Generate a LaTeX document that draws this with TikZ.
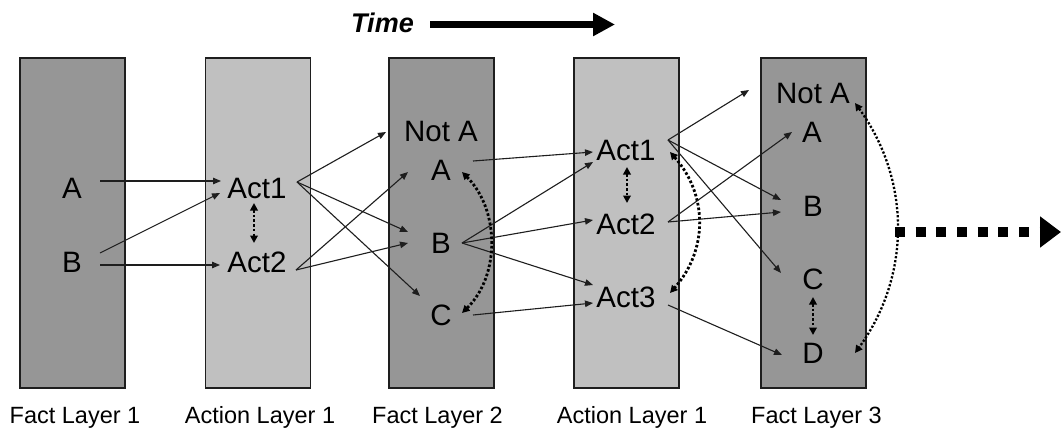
\documentclass[tikz,border=0pt]{standalone}
\usepackage{fontspec}
\setmainfont{Liberation Sans}
\usetikzlibrary{arrows.meta,calc}
\definecolor{factgray}{RGB}{150,150,150}
\definecolor{actgray}{RGB}{192,192,192}
\definecolor{ink}{RGB}{30,30,30}

\begin{document}
\begin{tikzpicture}[x=1pt,y=-1pt,
  layerfact/.style={fill=factgray,draw=ink,line width=1.1pt,minimum width=105pt,minimum height=330pt,inner sep=0pt},
  layeract/.style={fill=actgray,draw=ink,line width=1.1pt,minimum width=105pt,minimum height=330pt,inner sep=0pt},
  lit/.style={inner sep=0pt,font=\fontsize{29.5}{32}\selectfont},
  caption/.style={anchor=base,inner sep=0pt,font=\fontsize{23.5}{26}\selectfont},
  link/.style={draw=ink,line width=1.1pt,-{Triangle[length=8pt,width=6.5pt]}},
  mutex/.style={draw=black,line width=2.8pt,dash pattern=on 2.6pt off 2.1pt,
                {Triangle[length=7.5pt,width=7.5pt]}-{Triangle[length=7.5pt,width=7.5pt]}},
  bigflow/.style={draw=black,line width=10pt,dash pattern=on 10pt off 10.67pt,
                  -{Triangle[length=21pt,width=30pt]}},
  timeflow/.style={draw=black,line width=7pt,-{Triangle[length=22pt,width=22pt]}}]

\useasboundingbox (0,0) rectangle (1061,432);
\fill[white] (0,0) rectangle (1061,432);

% layers
\node[layerfact] (L1) at (72.5,223) {};
\node[layeract]  (L2) at (258,223) {};
\node[layerfact] (L3) at (441.5,223) {};
\node[layeract]  (L4) at (626.5,223) {};
\node[layerfact] (L5) at (813.5,223) {};

% captions
\node[caption] (c1) at (75,423) {Fact Layer 1};
\node[caption] (c2) at (260,423) {Action Layer 1};
\node[caption] (c3) at (437.5,423) {Fact Layer 2};
\node[caption] (c4) at (632,423) {Action Layer 1};
\node[caption] (c5) at (816.5,423) {Fact Layer 3};

% time arrow
\node[anchor=base,inner sep=0pt,font=\fontsize{27}{30}\selectfont\bfseries\itshape] (time) at (382.5,32) {Time};
\coordinate (t0) at (430,24.5);
\coordinate (t1) at (615,24.5);
\draw[timeflow] (t0) -- (t1);

% fact layer 1
\node[lit] (f1A) at (72,188) {A};
\node[lit] (f1B) at (72,262) {B};
% action layer 1
\node[lit] (a1Act1) at (257,188) {Act1};
\node[lit] (a1Act2) at (257,262) {Act2};
% fact layer 2
\node[lit] (f2NotA) at (441,131) {Not A};
\node[lit] (f2A) at (441,170) {A};
\node[lit] (f2B) at (441,243) {B};
\node[lit] (f2C) at (441,315) {C};
% action layer 2
\node[lit] (a2Act1) at (626,150) {Act1};
\node[lit] (a2Act2) at (626,224) {Act2};
\node[lit] (a2Act3) at (626,297) {Act3};
% fact layer 3
\node[lit] (f3NotA) at (813,93) {Not A};
\node[lit] (f3A) at (812,132) {A};
\node[lit] (f3B) at (813,206) {B};
\node[lit] (f3C) at (813,279) {C};
\node[lit] (f3D) at (813,353) {D};

% fact layer 1 -> action layer 1
\draw[link] ($(f1A)+(28,-7)$) -- ($(a1Act1)+(-36,-7)$);
\draw[link] ($(f1B)+(28,-9)$) -- ($(a1Act1)+(-37,5)$);
\draw[link] ($(f1B)+(28,3)$) -- ($(a1Act2)+(-37,3)$);
\draw[mutex] ($(a1Act1)+(-3,15)$) -- ($(a1Act2)+(-3,-19)$);

% action layer 1 -> fact layer 2
\draw[link] ($(a1Act1)+(40,-6)$) -- ($(f2NotA)+(-55,1)$);
\draw[link] ($(a1Act1)+(40,-6)$) -- ($(f2B)+(-33,-11)$);
\draw[link] ($(a1Act1)+(40,-6)$) -- ($(f2C)+(-21,-19)$);
\draw[link] ($(a1Act2)+(39,8)$) -- ($(f2A)+(-33,2)$);
\draw[link] ($(a1Act2)+(39,8)$) -- ($(f2B)+(-33,0)$);

% fact layer 2 -> action layer 2
\draw[link] ($(f2A)+(32,-9)$) -- ($(a2Act1)+(-33,2)$);
\draw[link] ($(f2B)+(21,0)$) -- ($(a2Act1)+(-33,12)$);
\draw[link] ($(f2B)+(21,0)$) -- ($(a2Act2)+(-33,-4)$);
\draw[link] ($(f2B)+(21,0)$) -- ($(a2Act3)+(-33,-12)$);
\draw[link] ($(f2C)+(32,0)$) -- ($(a2Act3)+(-33,6)$);
\draw[mutex] ($(f2A)+(21,2)$) .. controls (500,210) and (500,276) .. ($(f2C)+(21,-2)$);

% action layer 2 -> fact layer 3
\draw[mutex] ($(a2Act1)+(1,17)$) -- ($(a2Act2)+(1,-21)$);
\draw[mutex] ($(a2Act1)+(44,2)$) .. controls (708,195) and (708,250) .. ($(a2Act3)+(44,-4)$);
\draw[link] ($(a2Act1)+(42,-10)$) -- ($(f3NotA)+(-64,-3)$);
\draw[link] ($(a2Act1)+(42,-10)$) -- ($(f3B)+(-32,-6)$);
\draw[link] ($(a2Act1)+(42,-10)$) -- ($(f3C)+(-32,-6)$);
\draw[link] ($(a2Act2)+(42,-2)$) -- ($(f3A)+(-20,0)$);
\draw[link] ($(a2Act2)+(42,-2)$) -- ($(f3B)+(-32,6)$);
\draw[link] ($(a2Act3)+(42,8)$) -- ($(f3D)+(-31,2)$);

% fact layer 3 mutexes
\draw[mutex] ($(f3C)+(0,18)$) -- ($(f3D)+(0,-18)$);
\draw[mutex,line width=2.3pt,dash pattern=on 2.2pt off 1.9pt] ($(f3NotA)+(42,10)$) .. controls (911,180) and (911,276) .. ($(f3D)+(42,0)$);

% continuation
\coordinate (go0) at (895,232);
\coordinate (go1) at (1061,232);
\draw[bigflow] (go0) -- (go1);
\end{tikzpicture}
\end{document}
